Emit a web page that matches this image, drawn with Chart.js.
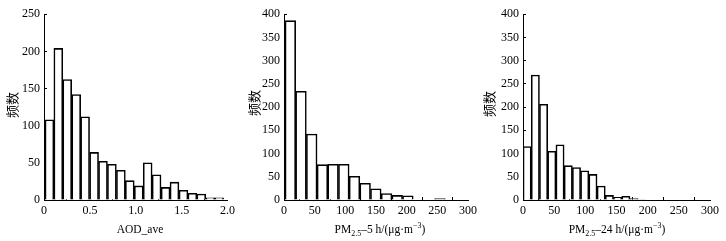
<!DOCTYPE html>
<html>
<head>
<meta charset="utf-8">
<script src="https://cdn.jsdelivr.net/npm/chart.js@4.4.1/dist/chart.umd.min.js"></script>
<style>
  html, body { margin:0; padding:0; background:#fff; }
  #wrap { position:relative; width:726px; height:241px; overflow:hidden; }
  .panel { position:absolute; top:0; width:242px; height:241px; }
  .panel canvas { position:absolute; left:0; top:0; }
  .ytitle { position:absolute; font:13px 'Noto Sans CJK SC', sans-serif; color:#000;
            transform:translate(-50%,-50%) rotate(-90deg); white-space:nowrap; line-height:14px; }
  .xtitle { position:absolute; top:222px; font:11.5px 'Liberation Serif', 'Times New Roman', serif; color:#000;
            transform:translateX(-50%); white-space:nowrap; line-height:14px; }
  .xtitle sub, .xtitle sup { font-size:8px; line-height:0; }
</style>
</head>
<body>
<div id="wrap">
  <div class="panel" style="left:0">
    <canvas id="c1" width="242" height="241"></canvas>
    <span class="ytitle" style="left:12px;top:105px">频数</span>
    <span class="xtitle" style="left:140px">AOD_ave</span>
  </div>
  <div class="panel" style="left:242px">
    <canvas id="c2" width="242" height="241"></canvas>
    <span class="ytitle" style="left:12px;top:103px">频数</span>
    <span class="xtitle" style="left:138px">PM<sub>2.5</sub>–5 h/(μg·m<sup>−3</sup>)</span>
  </div>
  <div class="panel" style="left:484px">
    <canvas id="c3" width="242" height="241"></canvas>
    <span class="ytitle" style="left:5px;top:104px">频数</span>
    <span class="xtitle" style="left:133px">PM<sub>2.5</sub>–24 h/(μg·m<sup>−3</sup>)</span>
  </div>
</div>
<script>
// bin centres and counts
const aodBins   = [0.059, 0.156, 0.253, 0.351, 0.448, 0.546, 0.643, 0.740, 0.838, 0.935,
                   1.033, 1.130, 1.227, 1.325, 1.422, 1.520, 1.617, 1.714, 1.812, 1.909];
const aodCounts = [108, 204, 162, 142, 112, 64, 52, 48, 40, 26, 19, 50, 34, 17, 24, 13, 9, 8, 3, 3];

const pm5Bins   = [10.3, 27.7, 45.2, 62.6, 80.0, 97.5, 114.9, 132.3, 149.7, 167.2, 184.6, 202.0, 219.5, 236.9, 254.3];
const pm5Counts = [386, 234, 142, 76, 77, 77, 51, 36, 24, 14, 10, 9, 0, 0, 3];

const pm24Bins   = [6.6, 19.8, 33.0, 46.2, 59.4, 72.6, 85.8, 99.0, 112.2, 125.4, 138.6, 151.8, 165.0, 178.2, 191.4];
const pm24Counts = [115, 269, 206, 105, 119, 74, 70, 63, 55, 30, 10, 6, 8, 3, 1];

const tickFont = { family:'Liberation Serif', size:12 };

function histChart(id, bins, counts, xMax, xStep, yMax, yWidth, padRight, fmt) {
  const ctx = document.getElementById(id).getContext('2d');
  return new Chart(ctx, {
    type: 'bar',
    data: { datasets: [{
      data: bins.map((x, i) => ({ x, y: counts[i] })),
      backgroundColor: '#fff',
      borderColor: '#000',
      borderWidth: 1.6,
      barPercentage: 1,
      categoryPercentage: 1
    }] },
    options: {
      responsive: false, animation: false,
      layout: { padding: { top:10, right:padRight, left:0, bottom:0 } },
      plugins: { legend:{ display:false }, tooltip:{ enabled:false } },
      scales: {
        x: {
          type:'linear', min:0, max:xMax, offset:false,
          afterFit: s => { s.height = 41; },
          grid: { drawOnChartArea:false, color:'#000', tickLength:-3 },
          border: { color:'#000', width:1 },
          ticks: { stepSize:xStep, padding:7, color:'#000', font:tickFont, maxRotation:0, callback: fmt }
        },
        y: {
          min:0, max:yMax,
          afterFit: s => { s.width = yWidth; },
          grid: { drawOnChartArea:false, color:'#000', tickLength:-3 },
          border: { color:'#000', width:1 },
          ticks: { stepSize:50, padding:7, color:'#000', font:tickFont }
        }
      }
    }
  });
}

histChart('c1', aodBins, aodCounts, 2.0, 0.5, 250, 44, 9, v => v === 0 ? '0' : v.toFixed(1));
histChart('c2', pm5Bins, pm5Counts, 300, 50, 400, 42, 12, v => v);
histChart('c3', pm24Bins, pm24Counts, 300, 50, 400, 39, 15, v => v);
</script>
</body>
</html>
